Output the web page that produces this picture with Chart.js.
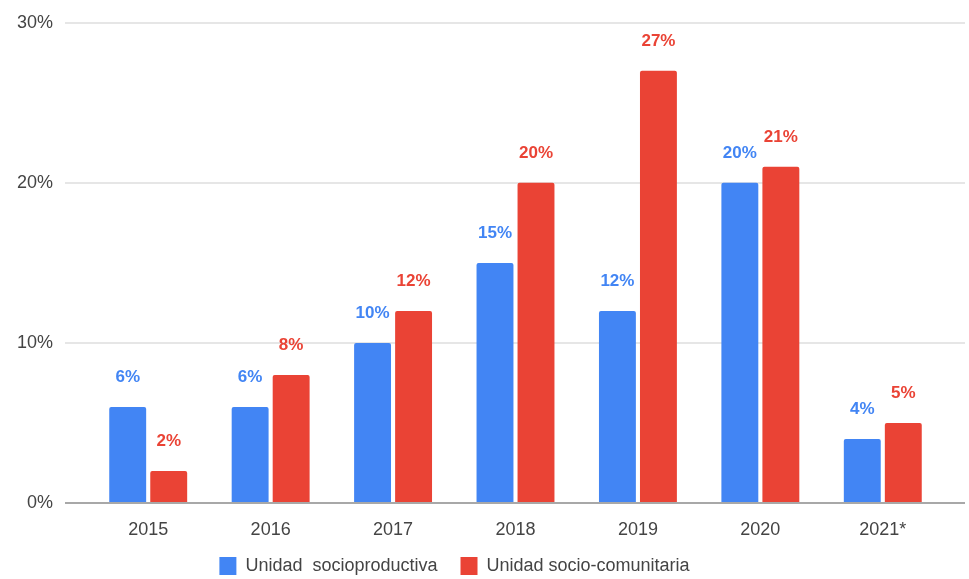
<!DOCTYPE html>
<html><head><meta charset="utf-8">
<script src="https://cdn.jsdelivr.net/npm/chart.js@4"></script>
<style>html,body{margin:0;padding:0;background:#fff}canvas{display:block}</style>
</head><body>
<canvas id="c" width="969" height="579"></canvas>
<script>
const categories = ['2015','2016','2017','2018','2019','2020','2021*'];
const socioproductiva = [6, 6, 10, 15, 12, 20, 4];
const sociocomunitaria = [2, 8, 12, 20, 27, 21, 5];
const seriesNames = ['Unidad  socioproductiva', 'Unidad socio-comunitaria'];
const seriesColors = ['#4285F4', '#EA4335'];
const yMin = 0, yMax = 30, yStep = 10;

const FONT = '"Liberation Sans", Arial, sans-serif';
const gridColor = ctx => (ctx.tick && ctx.tick.value === 0) ? '#a8a8a8' : '#e6e6e6';

const valueLabels = {
  id: 'valueLabels',
  afterDatasetsDraw(chart) {
    const ctx = chart.ctx;
    ctx.save();
    ctx.font = 'bold 17px ' + FONT;
    ctx.textAlign = 'center';
    ctx.textBaseline = 'middle';
    chart.data.datasets.forEach((ds, di) => {
      const meta = chart.getDatasetMeta(di);
      meta.data.forEach((bar, i) => {
        ctx.fillStyle = seriesColors[di];
        ctx.fillText(ds.data[i] + '%', bar.x, bar.y - 30);
      });
    });
    ctx.restore();
  }
};

const legendShift = {
  id: 'legendShift',
  afterLayout(chart) {
    const lg = chart.legend;
    if (lg) { lg.left -= 30; lg.right -= 30; lg.top -= 9; lg.bottom -= 9; }
  }
};

new Chart(document.getElementById('c'), {
  type: 'bar',
  data: {
    labels: categories,
    datasets: [
      { label: seriesNames[0], data: socioproductiva, backgroundColor: seriesColors[0], borderRadius: 2, borderSkipped: 'bottom' },
      { label: seriesNames[1], data: sociocomunitaria, backgroundColor: seriesColors[1], borderRadius: 2, borderSkipped: 'bottom' }
    ]
  },
  options: {
    responsive: false,
    animation: false,
    devicePixelRatio: 1,
    categoryPercentage: 0.67,
    barPercentage: 0.9,
    layout: { padding: { top: 20, bottom: -15, left: 0, right: 0 } },
    scales: {
      x: {
        grid: { display: false },
        border: { display: false },
        ticks: { color: '#444', font: { family: FONT, size: 18 }, padding: 8 },
        afterFit(s) { s.height = 40; }
      },
      y: {
        min: yMin, max: yMax,
        ticks: { stepSize: yStep, color: '#444', font: { family: FONT, size: 18 }, padding: 12, callback: v => v + '%' },
        grid: { color: gridColor, lineWidth: 2, tickLength: 22 },
        border: { display: false },
        afterFit(s) { s.width = 87; }
      },
      y2: {
        position: 'right',
        min: yMin, max: yMax,
        ticks: { stepSize: yStep, display: false },
        grid: { color: gridColor, lineWidth: 2, tickLength: 21, drawOnChartArea: false },
        border: { display: false },
        afterFit(s) { s.width = 25; }
      }
    },
    plugins: {
      legend: {
        position: 'bottom',
        labels: { color: '#444', font: { family: FONT, size: 18 }, boxWidth: 17, boxHeight: 18, padding: 23 }
      },
      tooltip: { enabled: false }
    }
  },
  plugins: [valueLabels, legendShift]
});
</script>
</body></html>
